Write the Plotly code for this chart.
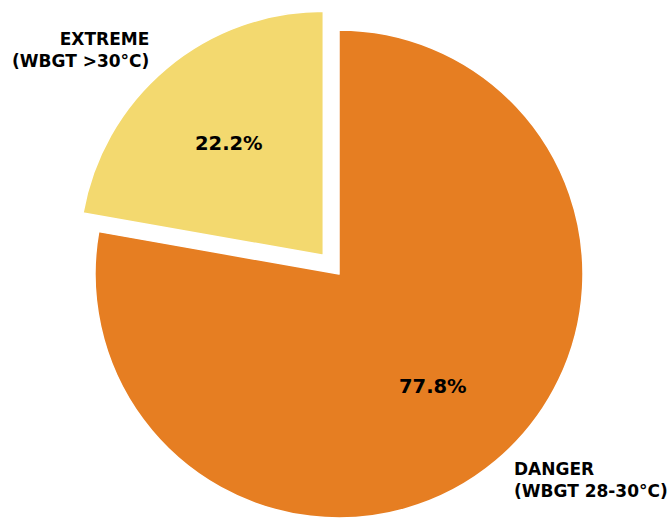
import math
import plotly.graph_objects as go

# Heat-stress hours by WBGT category
categories = ["DANGER", "EXTREME"]
category_ranges = ["(WBGT 28-30°C)", "(WBGT >30°C)"]
hours = [7, 2]
colors = ["#E67E22", "#F3D96F"]
exploded = [False, True]

W, H = 668, 520
CX, CY, R = 339.0, 274.0, 244.0  # pie centre and radius in pixels
PULL = 0.1
PCT_DIST, LABEL_DIST = 0.6, 1.1
FONT = "DejaVu Sans"
LABEL_SIZE = 17
PCT_SIZE = 19.5

total = sum(hours)

# mid-angle of each wedge (degrees, counter-clockwise from +x), drawn clockwise from 12 o'clock
mid_angles = []
start = 90.0
for v in hours:
    span = 360.0 * v / total
    mid_angles.append(start - span / 2)
    start -= span


def to_paper(px, py):
    return px / W, 1 - py / H


fig = go.Figure()
annotations = []
for i, (cat, rng, v, col, ex) in enumerate(zip(categories, category_ranges, hours, colors, exploded)):
    th = math.radians(mid_angles[i])
    shift = PULL * R if ex else 0.0
    cx = CX + shift * math.cos(th)
    cy = CY - shift * math.sin(th)

    x0, y1 = to_paper(cx - R, cy - R)
    x1, y0 = to_paper(cx + R, cy + R)

    slice_colors = [c if j == i else "rgba(0,0,0,0)" for j, c in enumerate(colors)]
    line_widths = [1.5 if j == i else 0 for j in range(len(hours))]
    fig.add_trace(go.Pie(
        labels=[f"{c} {r}" for c, r in zip(categories, category_ranges)],
        values=hours,
        sort=False,
        direction="clockwise",
        rotation=0,
        textinfo="none",
        marker=dict(colors=slice_colors, line=dict(color="white", width=line_widths)),
        domain=dict(x=[x0, x1], y=[y0, y1]),
        showlegend=False,
        hoverinfo="label+percent",
    ))

    # percentage inside the wedge
    px, py = to_paper(cx + PCT_DIST * R * math.cos(th), cy - PCT_DIST * R * math.sin(th))
    annotations.append(dict(
        x=px, y=py, xref="paper", yref="paper",
        text=f"<b>{100 * v / total:.1f}%</b>",
        showarrow=False, xanchor="center", yanchor="middle",
        font=dict(family=FONT, size=PCT_SIZE, color="black"),
    ))

    # category label outside the wedge
    lx, ly = to_paper(cx + LABEL_DIST * R * math.cos(th), cy - LABEL_DIST * R * math.sin(th))
    annotations.append(dict(
        x=lx, y=ly, xref="paper", yref="paper",
        text=f"<b>{cat}<br>{rng}</b>",
        showarrow=False,
        xanchor="right" if math.cos(th) < 0 else "left",
        yanchor="middle",
        align="right" if math.cos(th) < 0 else "left",
        font=dict(family=FONT, size=LABEL_SIZE, color="black"),
    ))

fig.update_layout(
    width=W, height=H, autosize=False,
    margin=dict(l=0, r=0, t=0, b=0),
    paper_bgcolor="white", plot_bgcolor="white",
    annotations=annotations,
)

fig.write_html("out.html")
